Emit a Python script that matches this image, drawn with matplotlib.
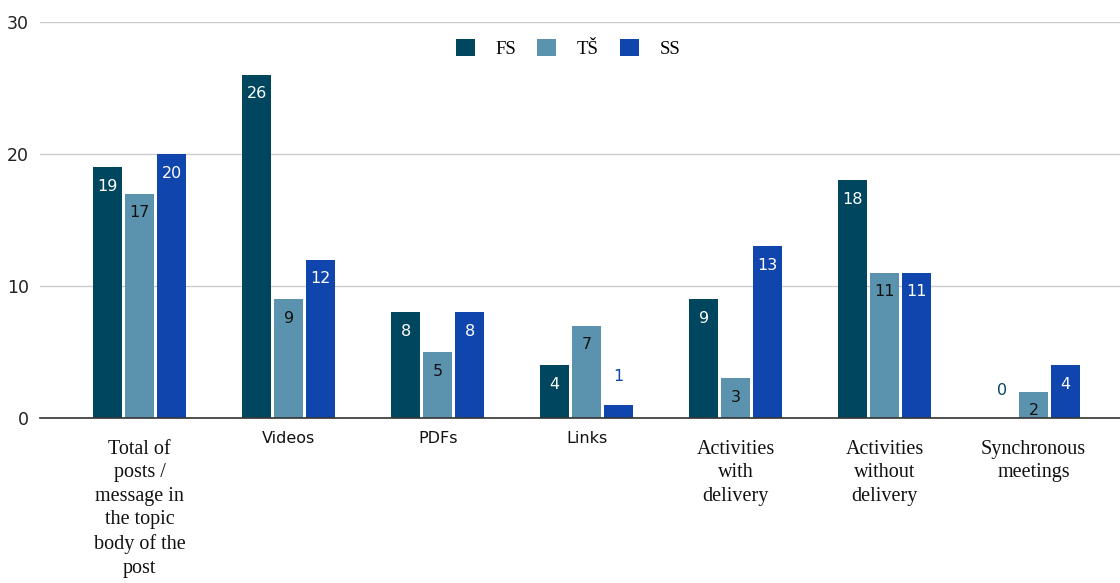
import numpy as np
import matplotlib.pyplot as plt

categories = ['Total of\nposts /\nmessage in\nthe topic\nbody of the\npost', 'Videos', 'PDFs', 'Links',
              'Activities\nwith\ndelivery', 'Activities\nwithout\ndelivery', 'Synchronous\nmeetings']
series_names = ['FS', 'TŠ', 'SS']
fs_vals = [19, 26, 8, 4, 9, 18, 0]
ts_vals = [17, 9, 5, 7, 3, 11, 2]
ss_vals = [20, 12, 8, 1, 13, 11, 4]

colors = ['#01465f', '#5b93ae', '#0f45ad']
label_colors = ['white', '#111111', 'white']
# the x labels mix fonts in the original
label_fonts = ['Liberation Serif', 'DejaVu Sans', 'DejaVu Sans', 'DejaVu Sans',
               'Liberation Serif', 'Liberation Serif', 'Liberation Serif']


def run():
    fig = plt.figure(figsize=(11.2, 5.83), dpi=100)
    ax = fig.add_axes([0.0357, 0.283, 0.9643, 0.679])

    x = np.arange(len(categories))
    width = 0.195
    step = 0.215
    for i, vals in enumerate([fs_vals, ts_vals, ss_vals]):
        pos = x + (i - 1) * step
        ax.bar(pos, vals, width, color=colors[i], label=series_names[i], zorder=3)
        for p, v in zip(pos, vals):
            if v >= 2:
                ax.annotate(str(v), (p, v), xytext=(0, -19), textcoords='offset pixels',
                            ha='center', va='center', color=label_colors[i], fontsize=11.5,
                            zorder=4)
            else:
                c = colors[i] if i != 1 else '#111111'
                ax.annotate(str(v), (p, v), xytext=(0, 28), textcoords='offset pixels',
                            ha='center', va='center', color=c, fontsize=11.5, zorder=4)

    ax.set_xlim(-0.67, 6.58)
    ax.set_ylim(0, 30)
    ax.set_yticks([0, 10, 20, 30])
    ax.tick_params(axis='y', length=0, labelsize=12.5, pad=8, colors='#222222')
    ax.set_xticks([])
    ax.grid(axis='y', color='#cccccc', linewidth=1, zorder=0)
    for s in ['top', 'right', 'left']:
        ax.spines[s].set_visible(False)
    ax.spines['bottom'].set_color('#333333')
    ax.spines['bottom'].set_linewidth(1.2)
    ax.spines['bottom'].set_zorder(5)

    for i, cat in enumerate(categories):
        serif = label_fonts[i] != 'DejaVu Sans'
        ax.annotate(cat, (x[i], 0), xytext=(0, -22 if serif else -13), textcoords='offset pixels',
                    ha='center', va='top', family=label_fonts[i],
                    fontsize=14.5 if serif else 11.5, linespacing=1.32 if serif else 1.2,
                    color='#111111')

    ax.legend(loc='upper center', bbox_to_anchor=(0.489, 1.0), ncol=3, frameon=False,
              prop={'family': 'Liberation Serif', 'size': 13.5}, handlelength=1.0,
              handleheight=1.0, handletextpad=1.1, columnspacing=1.15)
    plt.savefig('out.png', dpi=100)


if __name__ == "__main__":
    run()
